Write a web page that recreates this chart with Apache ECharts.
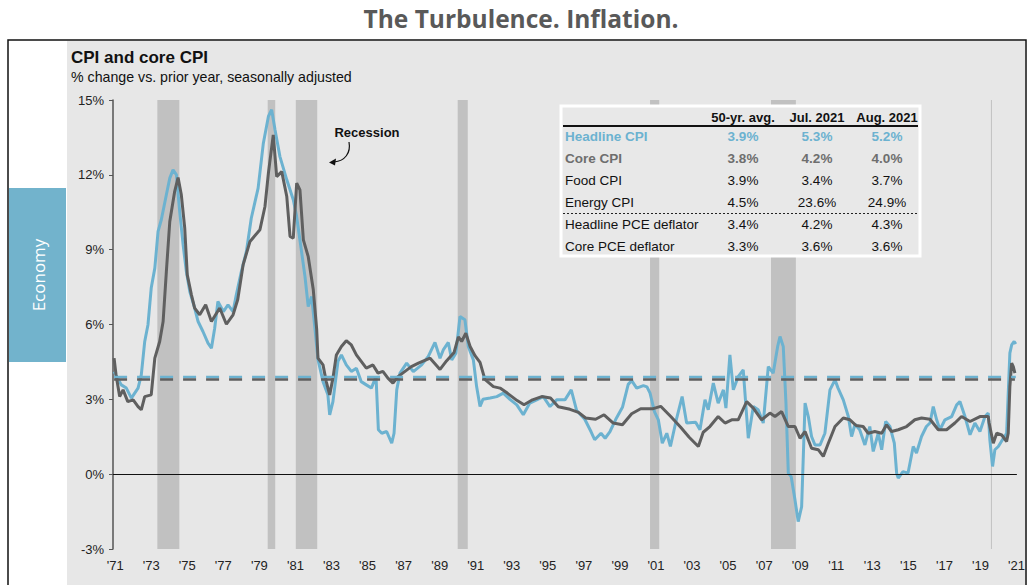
<!DOCTYPE html>
<html>
<head>
<meta charset="utf-8">
<title>CPI and core CPI</title>
<script src="https://cdn.jsdelivr.net/npm/echarts@6/dist/echarts.min.js"></script>
<style>
  html, body { margin: 0; padding: 0; background: #fff; }
  #chart { width: 1028px; height: 585px; }
</style>
</head>
<body>
<div id="chart"></div>
<script>
// Headline CPI, y/y % change, [year, value]
const headlineCpi = [
  [1971.44, 4.11], [1971.84, 3.58], [1972.12, 3.45], [1972.4, 3.05], [1972.77, 3.45], [1972.95, 3.98],
  [1973.14, 5.32], [1973.32, 5.99], [1973.5, 7.46], [1973.7, 8.26], [1973.88, 9.73], [1974.06, 10.2],
  [1974.34, 11.2], [1974.53, 11.87], [1974.71, 12.2], [1974.9, 12.0], [1975.08, 10.53], [1975.27, 9.19],
  [1975.45, 8.12], [1975.64, 7.32], [1975.91, 6.66], [1976.1, 6.12], [1976.37, 5.72], [1976.65, 5.25],
  [1976.84, 5.05], [1977.02, 5.85], [1977.2, 6.92], [1977.5, 6.52], [1977.76, 6.79], [1978.04, 6.52],
  [1978.22, 7.19], [1978.5, 8.12], [1978.78, 8.93], [1979.05, 10.26], [1979.43, 11.47], [1979.72, 13.27],
  [1980.0, 14.34], [1980.18, 14.61], [1980.37, 13.8], [1980.64, 12.73], [1981.02, 11.8], [1981.38, 11.0],
  [1981.55, 10.4], [1981.75, 9.39], [1982.03, 7.92], [1982.21, 6.72], [1982.4, 7.12], [1982.59, 5.79],
  [1982.75, 4.6], [1983.03, 3.71], [1983.3, 3.18], [1983.4, 2.38], [1983.58, 2.91], [1983.86, 4.52],
  [1984.05, 4.78], [1984.32, 4.38], [1984.6, 4.12], [1984.88, 4.25], [1985.15, 3.71], [1985.43, 3.58],
  [1985.71, 3.45], [1985.97, 3.91], [1986.1, 1.78], [1986.29, 1.64], [1986.56, 1.71], [1986.84, 1.24],
  [1986.97, 1.64], [1987.12, 3.38], [1987.3, 4.05], [1987.67, 4.45], [1988.04, 4.11], [1988.5, 4.38],
  [1988.87, 4.72], [1989.24, 5.28], [1989.52, 4.65], [1989.7, 4.98], [1989.98, 5.28], [1990.17, 4.58],
  [1990.4, 4.85], [1990.63, 6.32], [1990.9, 6.19], [1991.09, 5.12], [1991.37, 4.58], [1991.55, 3.51],
  [1991.74, 2.71], [1991.9, 3.0], [1992.3, 3.05], [1992.67, 3.11], [1993.03, 3.25], [1993.4, 3.0],
  [1993.78, 2.78], [1994.14, 2.38], [1994.5, 2.85], [1994.88, 2.98], [1995.25, 3.11], [1995.62, 2.71],
  [1995.99, 2.98], [1996.45, 2.98], [1996.8, 3.38], [1997.1, 2.55], [1997.55, 2.2], [1997.9, 1.7],
  [1998.1, 1.38], [1998.45, 1.64], [1998.68, 1.44], [1998.95, 1.71], [1999.27, 2.2], [1999.64, 2.68],
  [1999.96, 3.6], [2000.15, 3.75], [2000.43, 3.45], [2000.8, 3.55], [2001.0, 3.5], [2001.17, 3.25],
  [2001.42, 2.5], [2001.63, 2.18], [2001.85, 1.24], [2002.1, 1.64], [2002.3, 1.11], [2002.65, 2.25],
  [2002.95, 3.11], [2003.2, 2.05], [2003.7, 2.08], [2003.94, 1.78], [2004.22, 2.98], [2004.4, 2.58],
  [2004.68, 3.65], [2004.95, 2.85], [2005.24, 3.38], [2005.38, 2.65], [2005.6, 4.78], [2005.79, 3.38],
  [2006.06, 3.91], [2006.34, 4.18], [2006.62, 1.44], [2006.9, 2.71], [2007.17, 2.58], [2007.45, 2.05],
  [2007.73, 4.31], [2008.0, 4.05], [2008.25, 5.12], [2008.38, 5.52], [2008.56, 5.12], [2008.71, 2.85],
  [2008.84, 0.04], [2009.0, -0.1], [2009.21, -1.03], [2009.39, -1.9], [2009.58, -1.3], [2009.77, 2.85],
  [2009.95, 2.31], [2010.13, 1.51], [2010.32, 1.17], [2010.6, 1.17], [2010.87, 1.64], [2011.15, 3.38],
  [2011.43, 3.78], [2011.6, 3.45], [2011.89, 2.98], [2012.17, 2.31], [2012.35, 1.51], [2012.54, 2.0],
  [2012.8, 1.78], [2013.09, 1.17], [2013.36, 1.91], [2013.55, 0.91], [2013.83, 1.64], [2014.02, 0.98],
  [2014.24, 2.11], [2014.48, 1.91], [2014.72, 1.24], [2014.85, 0.04], [2014.94, -0.16], [2015.2, 0.1],
  [2015.48, 0.04], [2015.77, 1.11], [2015.95, 0.85], [2016.23, 1.51], [2016.5, 1.91], [2016.7, 2.05],
  [2016.88, 2.71], [2017.07, 2.18], [2017.25, 1.78], [2017.53, 2.18], [2017.9, 2.31], [2018.18, 2.78],
  [2018.36, 2.91], [2018.64, 2.31], [2018.92, 1.58], [2019.19, 2.05], [2019.47, 1.71], [2019.75, 2.31],
  [2019.93, 2.45], [2020.02, 1.38], [2020.17, 0.31], [2020.3, 0.98], [2020.49, 1.11], [2020.77, 1.44],
  [2020.95, 1.64], [2021.13, 4.85], [2021.23, 5.18], [2021.37, 5.32], [2021.46, 5.22]
];

// Core CPI, y/y % change
const coreCpi = [
  [1971.44, 4.65], [1971.55, 3.98], [1971.75, 3.11], [1971.94, 3.38], [1972.2, 2.91], [1972.5, 2.98],
  [1972.77, 2.71], [1972.95, 2.58], [1973.14, 3.11], [1973.5, 3.18], [1973.7, 4.65], [1973.97, 5.32],
  [1974.16, 6.12], [1974.34, 8.12], [1974.53, 10.13], [1974.8, 11.33], [1974.99, 11.89], [1975.17, 11.2],
  [1975.36, 9.86], [1975.5, 7.99], [1975.73, 7.19], [1975.91, 6.66], [1976.19, 6.39], [1976.52, 6.79],
  [1976.84, 6.12], [1977.3, 6.66], [1977.67, 6.01], [1978.04, 6.39], [1978.3, 7.0], [1978.6, 8.4],
  [1978.98, 9.33], [1979.53, 9.8], [1979.81, 10.73], [1980.0, 12.07], [1980.27, 13.6], [1980.46, 11.93],
  [1980.74, 12.13], [1981.02, 11.13], [1981.2, 9.53], [1981.38, 9.46], [1981.57, 11.67], [1981.75, 11.4],
  [1981.94, 9.39], [1982.21, 8.72], [1982.49, 7.39], [1982.68, 5.79], [1982.75, 4.65], [1983.03, 4.38],
  [1983.21, 3.71], [1983.4, 3.18], [1983.58, 3.85], [1983.77, 4.78], [1984.05, 5.12], [1984.32, 5.35],
  [1984.6, 5.18], [1984.88, 4.78], [1985.15, 4.52], [1985.43, 4.25], [1985.8, 4.38], [1986.08, 4.05],
  [1986.35, 4.12], [1986.63, 3.85], [1986.91, 3.65], [1987.19, 3.91], [1987.56, 4.11], [1987.93, 4.31],
  [1988.32, 4.45], [1988.97, 4.65], [1989.52, 4.2], [1989.89, 4.55], [1990.3, 4.88], [1990.54, 5.5],
  [1990.72, 5.32], [1990.95, 5.65], [1991.19, 5.12], [1991.46, 4.75], [1991.74, 4.48], [1992.01, 3.8],
  [1992.48, 3.51], [1992.85, 3.45], [1993.25, 3.25], [1993.8, 2.95], [1994.18, 2.78], [1994.65, 2.98],
  [1995.16, 3.11], [1995.65, 3.05], [1996.08, 2.7], [1996.73, 2.6], [1997.2, 2.48], [1997.6, 2.25],
  [1998.15, 2.2], [1998.62, 2.38], [1999.13, 2.05], [1999.64, 1.98], [2000.15, 2.42], [2000.65, 2.62],
  [2001.3, 2.62], [2001.76, 2.72], [2002.32, 2.31], [2002.87, 1.88], [2003.34, 1.48], [2003.85, 1.11],
  [2004.12, 1.68], [2004.49, 1.91], [2004.95, 2.31], [2005.33, 2.05], [2005.7, 2.18], [2006.06, 2.18],
  [2006.53, 2.91], [2006.9, 2.65], [2007.36, 2.18], [2007.82, 2.45], [2008.1, 2.31], [2008.47, 2.51],
  [2008.84, 1.91], [2009.21, 1.91], [2009.49, 1.44], [2009.77, 1.71], [2010.13, 1.04], [2010.5, 0.98],
  [2010.78, 0.71], [2011.06, 1.24], [2011.43, 1.91], [2011.89, 2.25], [2012.26, 2.18], [2012.6, 1.95],
  [2012.99, 1.91], [2013.27, 1.64], [2013.64, 1.71], [2014.02, 1.64], [2014.29, 1.98], [2014.57, 1.71],
  [2014.94, 1.78], [2015.4, 1.91], [2015.86, 2.18], [2016.23, 2.25], [2016.7, 2.2], [2017.16, 1.78],
  [2017.62, 1.78], [2018.08, 2.05], [2018.45, 2.31], [2018.92, 2.11], [2019.47, 2.31], [2019.93, 2.31],
  [2019.98, 2.05], [2020.21, 1.24], [2020.4, 1.64], [2020.68, 1.57], [2020.95, 1.31], [2021.04, 1.64],
  [2021.13, 3.51], [2021.23, 4.45], [2021.32, 4.31], [2021.41, 4.05]
];

// recession periods [start, end]
const recessions = [
  [1973.84, 1975.06], [1979.96, 1980.38], [1981.52, 1982.71], [1990.5, 1991.06],
  [2001.17, 2001.68], [2007.88, 2009.26], [2020.08, 2020.13]
];

const xLabelYears = [];
for (let y = 1971; y <= 2021; y += 2) xLabelYears.push(y + 0.5);

// table
const tableHeader = ["50-yr. avg.", "Jul. 2021", "Aug. 2021"];
const tableRows = ["Headline CPI", "Core CPI", "Food CPI", "Energy CPI", "Headline PCE deflator", "Core PCE deflator"];
const avg50 = [3.9, 3.8, 3.9, 4.5, 3.4, 3.3];
const jul2021 = [5.3, 4.2, 3.4, 23.6, 4.2, 3.6];
const aug2021 = [5.2, 4.0, 3.7, 24.9, 4.3, 3.6];

const BLUE = "#6cb2d0";
const GRAY = "#5f5f5f";
const X_MIN = 1971.38;
const X_MAX = 2021.52;
const FONT = "'Liberation Sans', Arial, sans-serif";

const chart = echarts.init(document.getElementById("chart"), null, { renderer: "svg" });

const rowColors = [BLUE, "#6e6e6e", "#111", "#111", "#111", "#111"];
const tableGraphics = [
  { type: "rect", shape: { x: 561, y: 106, width: 359, height: 150 },
    style: { fill: "#e8e8e8", stroke: "#fff", lineWidth: 3 }, z: 50 },
  { type: "line", shape: { x1: 563, y1: 126, x2: 918, y2: 126 },
    style: { stroke: "#111", lineWidth: 2 }, z: 51 },
  { type: "line", shape: { x1: 563, y1: 213.5, x2: 918, y2: 213.5 },
    style: { stroke: "#222", lineWidth: 1, lineDash: [2, 2] }, z: 51 }
];
const colX = [743, 817, 887];
tableHeader.forEach((h, i) => {
  tableGraphics.push({ type: "text", x: colX[i], y: 117, z: 52,
    style: { text: h, font: "bold 13px " + FONT, fill: "#111", align: "center", verticalAlign: "middle" } });
});
tableRows.forEach((r, i) => {
  const y = 136 + i * 22;
  const font = (i < 2 ? "bold " : "") + "13.5px " + FONT;
  tableGraphics.push({ type: "text", x: 565, y: y, z: 52,
    style: { text: r, font: font, fill: rowColors[i], align: "left", verticalAlign: "middle" } });
  [avg50[i], jul2021[i], aug2021[i]].forEach((v, j) => {
    tableGraphics.push({ type: "text", x: colX[j], y: y, z: 52,
      style: { text: v.toFixed(1) + "%", font: font, fill: rowColors[i], align: "center", verticalAlign: "middle" } });
  });
});

const option = {
  backgroundColor: "#fff",
  animation: false,
  grid: { left: 113, right: 11, top: 100, bottom: 36, containLabel: false },
  xAxis: {
    type: "value",
    min: X_MIN,
    max: X_MAX,
    axisLine: { show: false },
    axisTick: { show: false },
    splitLine: { show: false },
    axisLabel: {
      customValues: xLabelYears,
      margin: 10,
      color: "#222",
      fontSize: 13,
      fontFamily: FONT,
      formatter: (v) => "'" + String(Math.floor(v) % 100).padStart(2, "0")
    }
  },
  yAxis: {
    type: "value",
    min: -3,
    max: 15,
    interval: 3,
    axisLine: { show: true, lineStyle: { color: "#555", width: 1.5 } },
    axisTick: { show: true, length: 4, lineStyle: { color: "#555" } },
    splitLine: { show: false },
    axisLabel: {
      margin: 9,
      color: "#222",
      fontSize: 13,
      fontFamily: FONT,
      formatter: (v) => v + "%"
    }
  },
  graphic: [
    { type: "rect", shape: { x: 8, y: 40, width: 1018, height: 560 },
      style: { fill: "#fff", stroke: "#111", lineWidth: 1.5 }, z: -10, silent: true },
    { type: "rect", shape: { x: 67, y: 41, width: 958, height: 560 },
      style: { fill: "#e7e7e7" }, z: -9, silent: true },
    { type: "rect", shape: { x: 9, y: 188, width: 57, height: 174 },
      style: { fill: "#72b3cc" }, z: -8, silent: true },
    { type: "text", x: 38, y: 275, rotation: Math.PI / 2, z: -7,
      style: { text: "Economy", font: "17px 'Open Sans', sans-serif", fill: "#fff", align: "center", verticalAlign: "middle" } },
    { type: "text", x: 521, y: 18,
      style: { text: "The Turbulence. Inflation.", font: "bold 24.5px 'Open Sans', sans-serif", fill: "#595959", align: "center", verticalAlign: "middle" } },
    { type: "text", x: 71, y: 57,
      style: { text: "CPI and core CPI", font: "bold 17px " + FONT, fill: "#111", align: "left", verticalAlign: "middle" } },
    { type: "text", x: 71, y: 77,
      style: { text: "% change vs. prior year, seasonally adjusted", font: "14.2px " + FONT, fill: "#111", align: "left", verticalAlign: "middle" } },
    { type: "text", x: 367, y: 132,
      style: { text: "Recession", font: "bold 13px " + FONT, fill: "#111", align: "center", verticalAlign: "middle" } },
    { type: "bezierCurve", shape: { x1: 349, y1: 142, cpx1: 351, cpy1: 153, cpx2: 345, cpy2: 161, x2: 334, y2: 162 },
      style: { stroke: "#111", lineWidth: 1.2, fill: null } },
    { type: "polygon", shape: { points: [[329, 162.5], [336, 158.5], [335, 165.5]] },
      style: { fill: "#111" } }
  ].concat(tableGraphics),
  series: [
    {
      name: "Recession",
      type: "custom",
      z: 1,
      silent: true,
      data: recessions,
      encode: { x: [0, 1] },
      renderItem: (params, api) => {
        const p1 = api.coord([api.value(0), 15]);
        const p2 = api.coord([api.value(1), -3]);
        return {
          type: "rect",
          shape: { x: p1[0], y: p1[1], width: Math.max(p2[0] - p1[0], 1), height: p2[1] - p1[1] },
          style: { fill: "#c1c1c1" }
        };
      }
    },
    {
      name: "Headline CPI",
      type: "line",
      z: 3,
      data: headlineCpi,
      showSymbol: false,
      lineStyle: { color: BLUE, width: 3 },
      itemStyle: { color: BLUE }
    },
    {
      name: "Core CPI",
      type: "line",
      z: 4,
      data: coreCpi,
      showSymbol: false,
      lineStyle: { color: GRAY, width: 3 },
      itemStyle: { color: GRAY },
      markLine: {
        silent: true,
        symbol: "none",
        label: { show: false },
        lineStyle: { color: "#111", width: 1, type: "solid" },
        data: [{ yAxis: 0 }]
      }
    },
    {
      name: "Headline 50-yr avg",
      type: "line",
      z: 5,
      data: [[headlineCpi[0][0], avg50[0]], [headlineCpi[headlineCpi.length - 1][0], avg50[0]]],
      showSymbol: false,
      lineStyle: { color: BLUE, width: 2.5, type: [13, 10] }
    },
    {
      name: "Core 50-yr avg",
      type: "line",
      z: 6,
      data: [[coreCpi[0][0], avg50[1]], [coreCpi[coreCpi.length - 1][0], avg50[1]]],
      showSymbol: false,
      lineStyle: { color: GRAY, width: 2.5, type: [13, 10] }
    }
  ]
};

chart.setOption(option);
</script>
</body>
</html>
